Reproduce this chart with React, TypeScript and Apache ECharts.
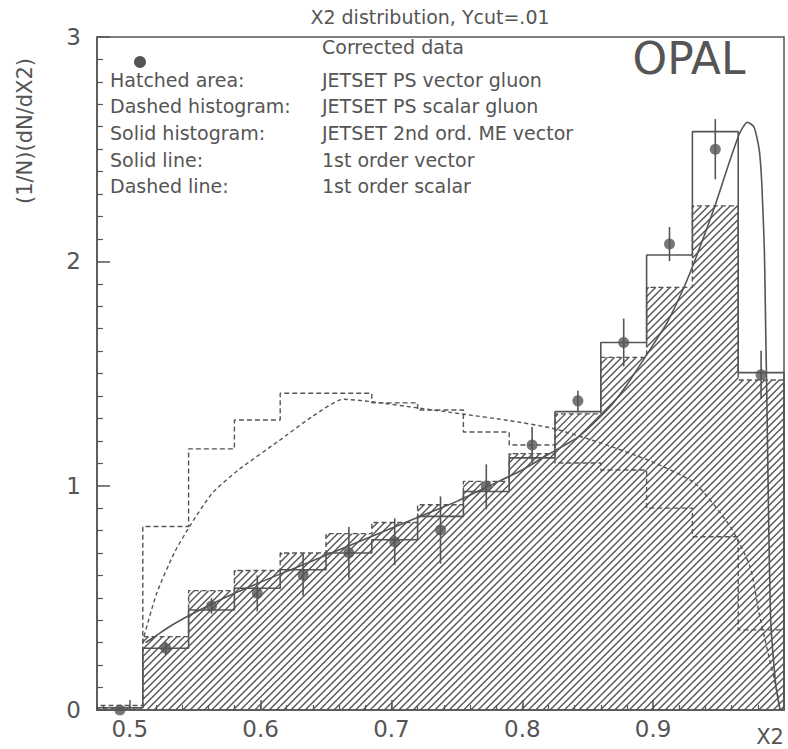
import React, { useEffect, useRef } from 'react';
import * as echarts from 'echarts';

// ---- data ----
const binEdges = [0.475, 0.51, 0.545, 0.58, 0.615, 0.65, 0.685, 0.72, 0.755, 0.79, 0.825, 0.86, 0.895, 0.93, 0.965, 1.0];
const hatchedArea = [0.01, 0.327, 0.532, 0.622, 0.70, 0.786, 0.836, 0.915, 1.019, 1.143, 1.32, 1.572, 1.884, 2.247, 1.471];
const solidHist = [0.01, 0.275, 0.446, 0.543, 0.625, 0.70, 0.759, 0.863, 0.974, 1.124, 1.33, 1.638, 2.028, 2.578, 1.504];
const dashedHist = [0.02, 0.818, 1.164, 1.293, 1.412, 1.412, 1.369, 1.337, 1.239, 1.181, 1.101, 1.07, 0.90, 0.772, 0.357];

const dataX = [0.4925, 0.5275, 0.5625, 0.5975, 0.6325, 0.6675, 0.7025, 0.7375, 0.7725, 0.8075, 0.8425, 0.8775, 0.9125, 0.9475, 0.9825];
const dataY = [0.0, 0.275, 0.464, 0.52, 0.602, 0.701, 0.75, 0.802, 0.995, 1.181, 1.378, 1.638, 2.077, 2.50, 1.494];
const dataErr = [0.0, 0.03, 0.035, 0.08, 0.093, 0.115, 0.104, 0.15, 0.10, 0.08, 0.045, 0.107, 0.076, 0.134, 0.107];

const vectorX = [0.512, 0.52, 0.53, 0.545, 0.56, 0.58, 0.60, 0.625, 0.65, 0.675, 0.70, 0.725, 0.75, 0.775, 0.80, 0.82, 0.8434, 0.8667, 0.88, 0.898, 0.911, 0.924, 0.931, 0.94, 0.948, 0.957, 0.966, 0.972, 0.977, 0.981, 0.983, 0.985, 0.986, 0.987, 0.988, 0.989, 0.990, 0.992, 0.994, 0.997];
const vectorY = [0.30, 0.33, 0.37, 0.42, 0.465, 0.52, 0.57, 0.63, 0.69, 0.75, 0.81, 0.87, 0.93, 1.00, 1.07, 1.14, 1.22, 1.35, 1.45, 1.61, 1.73, 1.89, 1.99, 2.13, 2.26, 2.42, 2.57, 2.62, 2.60, 2.50, 2.35, 2.05, 1.70, 1.35, 0.95, 0.60, 0.38, 0.22, 0.10, 0.0];

const scalarX = [0.511, 0.5206, 0.534, 0.547, 0.563, 0.583, 0.614, 0.64, 0.663, 0.684, 0.722, 0.7535, 0.79, 0.823, 0.86, 0.899, 0.932, 0.959, 0.974, 0.981, 0.988, 0.994, 0.997];
const scalarY = [0.33, 0.52, 0.70, 0.83, 0.966, 1.07, 1.20, 1.31, 1.385, 1.375, 1.345, 1.32, 1.29, 1.256, 1.19, 1.107, 1.01, 0.817, 0.64, 0.43, 0.25, 0.10, 0.0];

const xTickValues = [0.5, 0.6, 0.7, 0.8, 0.9];
const xMinorTickValues = [0.48, 0.5, 0.52, 0.54, 0.56, 0.58, 0.6, 0.62, 0.64, 0.66, 0.68, 0.7, 0.72, 0.74, 0.76, 0.78, 0.8, 0.82, 0.84, 0.86, 0.88, 0.9, 0.92, 0.94, 0.96, 0.98];

const titleText = 'X2 distribution, Ycut=.01';
const legendLeft = ['Hatched area:', 'Dashed histogram:', 'Solid histogram:', 'Solid line:', 'Dashed line:'];
const legendRight = ['JETSET PS vector gluon', 'JETSET PS scalar gluon', 'JETSET 2nd ord. ME vector', '1st order vector', '1st order scalar'];

const INK = '#555';
const FONT = 'DejaVu Sans';

function stepData(edges: number[], vals: number[]) {
  const pts: number[][] = [[edges[0], 0]];
  vals.forEach((v, i) => pts.push([edges[i], v]));
  pts.push([edges[edges.length - 1], 0]);
  return pts;
}

function txt(text: string, x: number, y: number, size: number, align = 'left', extra: any = {}, weight = 'normal') {
  return {
    type: 'text',
    x,
    y,
    silent: true,
    ...extra,
    style: {
      text,
      fill: INK,
      font: `${weight} ${size}px "${FONT}"`,
      fontSize: size,
      fontFamily: FONT,
      fontWeight: weight,
      textAlign: align,
      align,
      textVerticalAlign: 'middle',
      verticalAlign: 'middle',
    },
  };
}

export default function App() {
  const ref = useRef<HTMLDivElement>(null);
  useEffect(() => {
    if (!ref.current) return;
    const chart = echarts.init(ref.current, undefined, { renderer: 'svg' });
    const legendRows = [80, 106, 133, 160, 186];
    const graphic: any[] = [
      txt(titleText, 430, 17, 19, 'center'),
      txt('(1/N)(dN/dX2)', 25, 131, 21, 'center', { rotation: Math.PI / 2 }),
      txt('X2', 770, 737, 21, 'center'),
      txt('OPAL', 689, 58, 44, 'center'),
      { type: 'circle', shape: { cx: 140, cy: 62, r: 6 }, style: { fill: INK }, silent: true },
      txt('Corrected data', 322, 47, 19, 'left'),
    ];
    legendLeft.forEach((t, i) => graphic.push(txt(t, 110, legendRows[i], 19, 'left')));
    legendRight.forEach((t, i) => graphic.push(txt(t, 322, legendRows[i], 19, 'left')));

    const option: any = {
      animation: false,
      backgroundColor: '#fff',
      grid: { left: 97, right: 4, top: 37, bottom: 39, show: true, borderColor: INK, borderWidth: 1.5 },
      xAxis: [
        {
          type: 'value', min: 0.475, max: 1.0,
          axisLine: { show: true, lineStyle: { color: INK, width: 1.5 } },
          axisTick: { show: true, inside: true, length: 10, customValues: xTickValues, lineStyle: { color: INK, width: 1.5 } },
          axisLabel: { show: true, customValues: xTickValues, formatter: (v: number) => v.toFixed(1), fontSize: 23, fontFamily: FONT, color: INK, margin: 7 },
          splitLine: { show: false },
        },
        {
          type: 'value', min: 0.475, max: 1.0, position: 'bottom',
          axisLine: { show: false },
          axisTick: { show: true, inside: true, length: 5, customValues: xMinorTickValues, lineStyle: { color: INK, width: 1.2 } },
          axisLabel: { show: false },
          splitLine: { show: false },
        },
      ],
      yAxis: {
        type: 'value', min: 0, max: 3, interval: 1,
        axisLine: { show: true, lineStyle: { color: INK, width: 1.5 } },
        axisTick: { show: true, inside: true, length: 13, lineStyle: { color: INK, width: 1.5 } },
        minorTick: { show: true, splitNumber: 10, length: 6, lineStyle: { color: INK, width: 1.2 } },
        axisLabel: { fontSize: 23, fontFamily: FONT, color: INK, margin: 16 },
        splitLine: { show: false },
      },
      graphic,
      series: [
        {
          name: 'Hatched area',
          type: 'custom',
          silent: true,
          z: 1,
          encode: { x: [0, 1], y: 2 },
          data: hatchedArea.map((v, i) => [binEdges[i], binEdges[i + 1], v]),
          renderItem: (params: any, api: any) => {
            const lo = api.value(0), hi = api.value(1), h = api.value(2);
            const pBL = api.coord([lo, 0]);
            const pTR = api.coord([hi, h]);
            const x0 = pBL[0], x1 = pTR[0], yT = pTR[1], yB = pBL[1];
            const step = 7.2;
            const children: any[] = [];
            const cStart = Math.ceil((x0 + yT) / step) * step;
            for (let c = cStart; c <= x1 + yB; c += step) {
              const xa = Math.max(x0, c - yB);
              const xb = Math.min(x1, c - yT);
              if (xb - xa > 0.3) {
                children.push({ type: 'line', shape: { x1: xa, y1: c - xa, x2: xb, y2: c - xb }, style: { stroke: INK, lineWidth: 1.4 } });
              }
            }
            return { type: 'group', children };
          },
        },
        {
          name: 'Hatched outline', type: 'line', step: 'end', symbol: 'none', z: 2, silent: true,
          data: stepData(binEdges, hatchedArea),
          lineStyle: { color: INK, width: 1.4, type: [5, 3] },
        },
        {
          name: 'Dashed histogram', type: 'line', step: 'end', symbol: 'none', z: 3, silent: true,
          data: stepData(binEdges, dashedHist),
          lineStyle: { color: INK, width: 1.4, type: [5, 3] },
        },
        {
          name: 'Solid histogram', type: 'line', step: 'end', symbol: 'none', z: 4, silent: true,
          data: stepData(binEdges, solidHist),
          lineStyle: { color: INK, width: 1.6 },
        },
        {
          name: 'Solid line', type: 'line', symbol: 'none', z: 5, silent: true, smooth: 0.2,
          data: vectorX.map((x, i) => [x, vectorY[i]]),
          lineStyle: { color: INK, width: 1.6 },
        },
        {
          name: 'Dashed line', type: 'line', symbol: 'none', z: 5, silent: true, smooth: 0.2,
          data: scalarX.map((x, i) => [x, scalarY[i]]),
          lineStyle: { color: INK, width: 1.4, type: [4, 3] },
        },
        {
          name: 'Error bars',
          type: 'custom',
          silent: true,
          z: 6,
          encode: { x: 0, y: 1 },
          data: dataX.map((x, i) => [x, dataY[i], dataErr[i]]),
          renderItem: (params: any, api: any) => {
            const x = api.value(0), y = api.value(1), e = api.value(2);
            const a = api.coord([x, y - e]);
            const b = api.coord([x, y + e]);
            return { type: 'line', shape: { x1: a[0], y1: a[1], x2: b[0], y2: b[1] }, style: { stroke: INK, lineWidth: 1.6 } };
          },
        },
        {
          name: 'Corrected data', type: 'scatter', symbol: 'circle', symbolSize: 11, z: 7, silent: true,
          data: dataX.map((x, i) => [x, dataY[i]]),
          itemStyle: { color: INK },
        },
      ],
    };
    chart.setOption(option);
    return () => chart.dispose();
  }, []);
  return <div ref={ref} style={{ position: 'fixed', left: 0, top: 0, width: 788, height: 749 }} />;
}
